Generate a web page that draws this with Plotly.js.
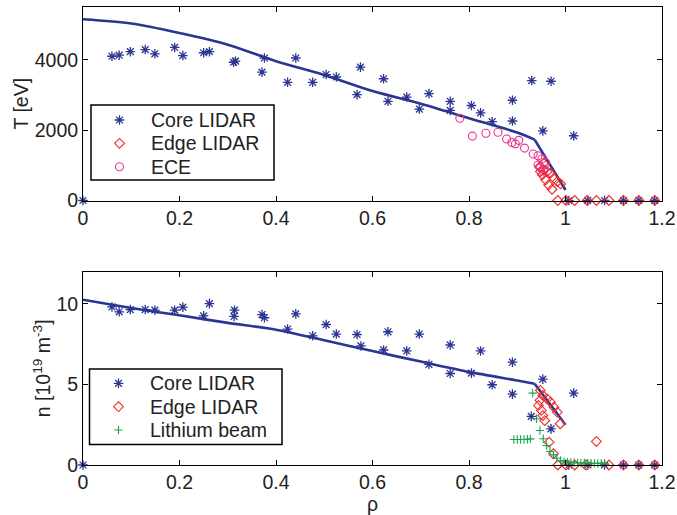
<!DOCTYPE html>
<html>
<head>
<meta charset="utf-8">
<script src="https://cdn.plot.ly/plotly-3.0.1.min.js"></script>
<style>html,body{margin:0;padding:0;background:#fff;}#chart{width:677px;height:515px;}</style>
</head>
<body>
<div id="chart"></div>
<script>
// ---- Top panel: temperature ----
var coreRho = [0, 0.060, 0.075, 0.098, 0.129, 0.149, 0.190, 0.207, 0.250, 0.262, 0.312, 0.316, 0.371, 0.376, 0.424, 0.441, 0.476, 0.504, 0.525, 0.568, 0.575, 0.623, 0.632, 0.671, 0.697, 0.717, 0.761, 0.761, 0.805, 0.824, 0.848, 0.890, 0.890, 0.930, 0.953, 0.970, 1.017, 1.007, 1.046, 1.081, 1.120, 1.152, 1.185];
var coreT   = [0, 4100, 4130, 4230, 4290, 4170, 4350, 4120, 4200, 4230, 3930, 3960, 3650, 4050, 3360, 4050, 3360, 3580, 3510, 3010, 3790, 3460, 2820, 2940, 2600, 3040, 2820, 2560, 2700, 2490, 2240, 2850, 2260, 3410, 1980, 3390, 1840, 0, 0, 0, 0, 0, 0];
var coreRhoN = [0, 0.060, 0.075, 0.098, 0.129, 0.149, 0.190, 0.207, 0.250, 0.262, 0.313, 0.314, 0.371, 0.376, 0.424, 0.441, 0.476, 0.504, 0.525, 0.568, 0.576, 0.623, 0.632, 0.671, 0.697, 0.717, 0.761, 0.761, 0.805, 0.824, 0.848, 0.890, 0.890, 0.929, 0.953, 0.970, 1.017, 1.007, 1.046, 1.081, 1.120, 1.152, 1.185];
var coreN   = [0, 9.81, 9.51, 9.65, 9.65, 9.61, 9.61, 9.80, 9.26, 10.02, 9.22, 9.61, 9.34, 9.14, 8.44, 9.38, 8.02, 8.72, 8.13, 8.10, 7.39, 7.14, 8.27, 7.08, 8.13, 6.25, 7.45, 5.68, 5.70, 7.08, 4.98, 6.38, 4.40, 3.02, 5.33, 2.24, 4.46, 0, 0, 0, 0, 0, 0];

var edgeRhoT = [0.947, 0.955, 0.962, 0.969, 0.976, 0.983, 0.990, 0.952, 0.959, 0.965, 0.972, 0.948, 0.954, 0.984, 1.001, 1.019, 1.045, 1.064, 1.090, 1.120, 1.152, 1.185];
var edgeT    = [966, 871, 823, 777, 634, 537, 471, 729, 586, 443, 320, 823, 1063, 0, 0, 0, 0, 0, 0, 0, 0, 0];

var eceRho = [0.781, 0.807, 0.835, 0.860, 0.878, 0.889, 0.896, 0.903, 0.915, 0.933, 0.943, 0.951, 0.943, 0.948, 0.954, 0.959];
var eceT   = [2340, 1830, 1910, 1940, 1750, 1650, 1610, 1710, 1490, 1320, 1270, 1180, 1010, 930, 840, 1070];

// fitted profile: smooth core part, then straight pedestal segment
var fitRhoT = [0, 0.1, 0.2, 0.3, 0.4, 0.5, 0.6, 0.7, 0.8, 0.9, 0.936];
var fitT    = [5150, 5030, 4760, 4430, 3960, 3570, 3110, 2750, 2340, 1930, 1730];
var pedRhoT = [0.936, 1.0];
var pedT    = [1730, 300];

// ---- Bottom panel: density ----
var edgeRhoN = [0.948, 0.953, 0.962, 0.969, 0.976, 0.983, 0.944, 0.947, 0.950, 0.953, 0.957, 0.989, 0.966, 0.975, 1.064, 0.984, 1.001, 1.019, 1.042, 1.090, 1.120, 1.152, 1.185];
var edgeN    = [4.63, 4.32, 4.11, 3.90, 3.59, 3.28, 3.70, 4.01, 3.39, 3.07, 2.76, 2.56, 1.42, 0.70, 1.46, 0, 0, 0, 0, 0, 0, 0, 0];

var liRho = [0.893, 0.900, 0.907, 0.914, 0.921, 0.927, 0.932, 0.940, 0.947, 0.954, 0.961, 0.968, 0.975, 0.982, 0.990, 0.997, 1.004, 1.011, 1.018, 1.025, 1.032, 1.039, 1.046, 1.053, 1.060, 1.067, 1.074, 1.081];
var liN   = [1.58, 1.58, 1.58, 1.58, 1.60, 1.62, 4.46, 2.87, 2.14, 1.63, 1.21, 0.84, 0.63, 0.42, 0.28, 0.20, 0.17, 0.15, 0.14, 0.13, 0.12, 0.12, 0.11, 0.11, 0.10, 0.10, 0.10, 0.10];

var fitRhoN = [0, 0.1, 0.2, 0.3, 0.4, 0.5, 0.6, 0.7, 0.8, 0.9, 0.936];
var fitN    = [10.26, 9.75, 9.29, 8.82, 8.40, 7.74, 7.07, 6.42, 5.78, 5.24, 5.04];
var pedRhoN = [0.936, 1.0];
var pedN    = [5.04, 2.50];

var xTicks = [0, 0.2, 0.4, 0.6, 0.8, 1, 1.2];
var topLegendNames = ['Core LIDAR', 'Edge LIDAR', 'ECE'];
var botLegendNames = ['Core LIDAR', 'Edge LIDAR', 'Lithium beam'];

var BLUE = '#2b3592', RED = '#ee2a2a', PINK = '#e8328c', GREEN = '#1aa54a';
var FONT = 'Liberation Sans, Arial, Helvetica, sans-serif';
var FS = 19.5;
var TXT = '#222';

var mCore = {symbol: 'asterisk-open', size: 8, color: BLUE, line: {color: BLUE, width: 1.3}};
var mEdge = {symbol: 'diamond-open', size: 7.5, color: RED, line: {color: RED, width: 1.1}};
var mEce  = {symbol: 'circle-open', size: 8, color: PINK, line: {color: PINK, width: 1.1}};
var mLi   = {symbol: 'cross-thin-open', size: 6, color: GREEN, line: {color: GREEN, width: 1.1}};

var traces = [
  {x: fitRhoT, y: fitT, xaxis: 'x', yaxis: 'y', mode: 'lines', line: {color: BLUE, width: 2.6, shape: 'spline', smoothing: 0.8}, hoverinfo: 'skip'},
  {x: pedRhoT, y: pedT, xaxis: 'x', yaxis: 'y', mode: 'lines', line: {color: BLUE, width: 2.6}, hoverinfo: 'skip'},
  {x: coreRho, y: coreT, xaxis: 'x', yaxis: 'y', mode: 'markers', name: 'Core LIDAR', cliponaxis: false, marker: mCore},
  {x: edgeRhoT, y: edgeT, xaxis: 'x', yaxis: 'y', mode: 'markers', name: 'Edge LIDAR', cliponaxis: false, marker: mEdge},
  {x: eceRho, y: eceT, xaxis: 'x', yaxis: 'y', mode: 'markers', name: 'ECE', cliponaxis: false, marker: mEce},

  {x: fitRhoN, y: fitN, xaxis: 'x2', yaxis: 'y2', mode: 'lines', line: {color: BLUE, width: 2.6, shape: 'spline', smoothing: 0.8}, hoverinfo: 'skip'},
  {x: pedRhoN, y: pedN, xaxis: 'x2', yaxis: 'y2', mode: 'lines', line: {color: BLUE, width: 2.6}, hoverinfo: 'skip'},
  {x: coreRhoN, y: coreN, xaxis: 'x2', yaxis: 'y2', mode: 'markers', name: 'Core LIDAR', cliponaxis: false, marker: mCore},
  {x: edgeRhoN, y: edgeN, xaxis: 'x2', yaxis: 'y2', mode: 'markers', name: 'Edge LIDAR', cliponaxis: false, marker: mEdge},
  {x: liRho, y: liN, xaxis: 'x2', yaxis: 'y2', mode: 'markers', name: 'Lithium beam', cliponaxis: false, marker: mLi}
];

// ---- Legends (drawn on a hidden axis pair measured in pixels) ----
// axis x3/y3 spans the whole plotting region: x in px 83..662, y in px 7..465
var legendBoxes = [
  {x0: 91, x1: 274, y0: 105, y1: 180, keyX: 119.5, textX: 149, rowY: [120, 143.3, 166.7], names: topLegendNames, markers: [mCore, mEdge, mEce]},
  {x0: 89.5, x1: 282, y0: 369, y1: 444.5, keyX: 118.5, textX: 147.5, rowY: [383.3, 406.7, 430], names: botLegendNames, markers: [mCore, mEdge, mLi]}
];
var shapes = [], annotations = [];
legendBoxes.forEach(function (b) {
  shapes.push({type: 'rect', xref: 'x3', yref: 'y3', x0: b.x0, x1: b.x1, y0: b.y0, y1: b.y1,
    line: {color: '#000', width: 1.5}, fillcolor: '#fff', layer: 'below'});
  b.names.forEach(function (nm, i) {
    traces.push({x: [b.keyX], y: [b.rowY[i]], xaxis: 'x3', yaxis: 'y3', mode: 'markers', marker: b.markers[i],
      cliponaxis: false, hoverinfo: 'skip', name: nm});
    annotations.push({xref: 'x3', yref: 'y3', x: b.textX, y: b.rowY[i], text: nm, showarrow: false,
      xanchor: 'left', yanchor: 'middle', font: {family: FONT, size: FS, color: TXT}});
  });
});

function axisBase() {
  return {
    showline: true, linecolor: '#000', linewidth: 1, mirror: 'ticks',
    ticks: 'inside', ticklen: 5, tickwidth: 1, tickcolor: '#000',
    showgrid: false, zeroline: false,
    tickfont: {family: FONT, size: FS, color: TXT}
  };
}

var xa = Object.assign(axisBase(), {domain: [0, 1], range: [0, 1.2], tickvals: xTicks, anchor: 'y'});
var xa2 = Object.assign(axisBase(), {domain: [0, 1], range: [0, 1.2], tickvals: xTicks, anchor: 'y2',
  title: {text: 'ρ', font: {family: FONT, size: FS, color: TXT}, standoff: 0}});
var ya = Object.assign(axisBase(), {domain: [0.5775, 1], range: [0, 5500], tickvals: [0, 2000, 4000], anchor: 'x',
  title: {text: 'T [eV]', font: {family: FONT, size: FS, color: TXT}, standoff: 0}});
var ya2 = Object.assign(axisBase(), {domain: [0, 0.4221], range: [0, 12], tickvals: [0, 5, 10], anchor: 'x2',
  title: {text: 'n [10<sup>19</sup> m<sup>-3</sup>]', font: {family: FONT, size: FS, color: TXT}, standoff: 0}});

var layout = {
  width: 677, height: 515,
  margin: {l: 83, r: 15, t: 7, b: 50, pad: 0},
  paper_bgcolor: '#fff', plot_bgcolor: 'rgba(0,0,0,0)',
  showlegend: false,
  font: {family: FONT, size: FS, color: TXT},
  xaxis: xa, yaxis: ya, xaxis2: xa2, yaxis2: ya2,
  xaxis3: {domain: [0, 1], range: [83, 662], visible: false, fixedrange: true, anchor: 'y3'},
  yaxis3: {domain: [0, 1], range: [465, 7], visible: false, fixedrange: true, anchor: 'x3'},
  shapes: shapes,
  annotations: annotations
};

Plotly.newPlot('chart', traces, layout, {displayModeBar: false, staticPlot: true});
</script>
</body>
</html>
